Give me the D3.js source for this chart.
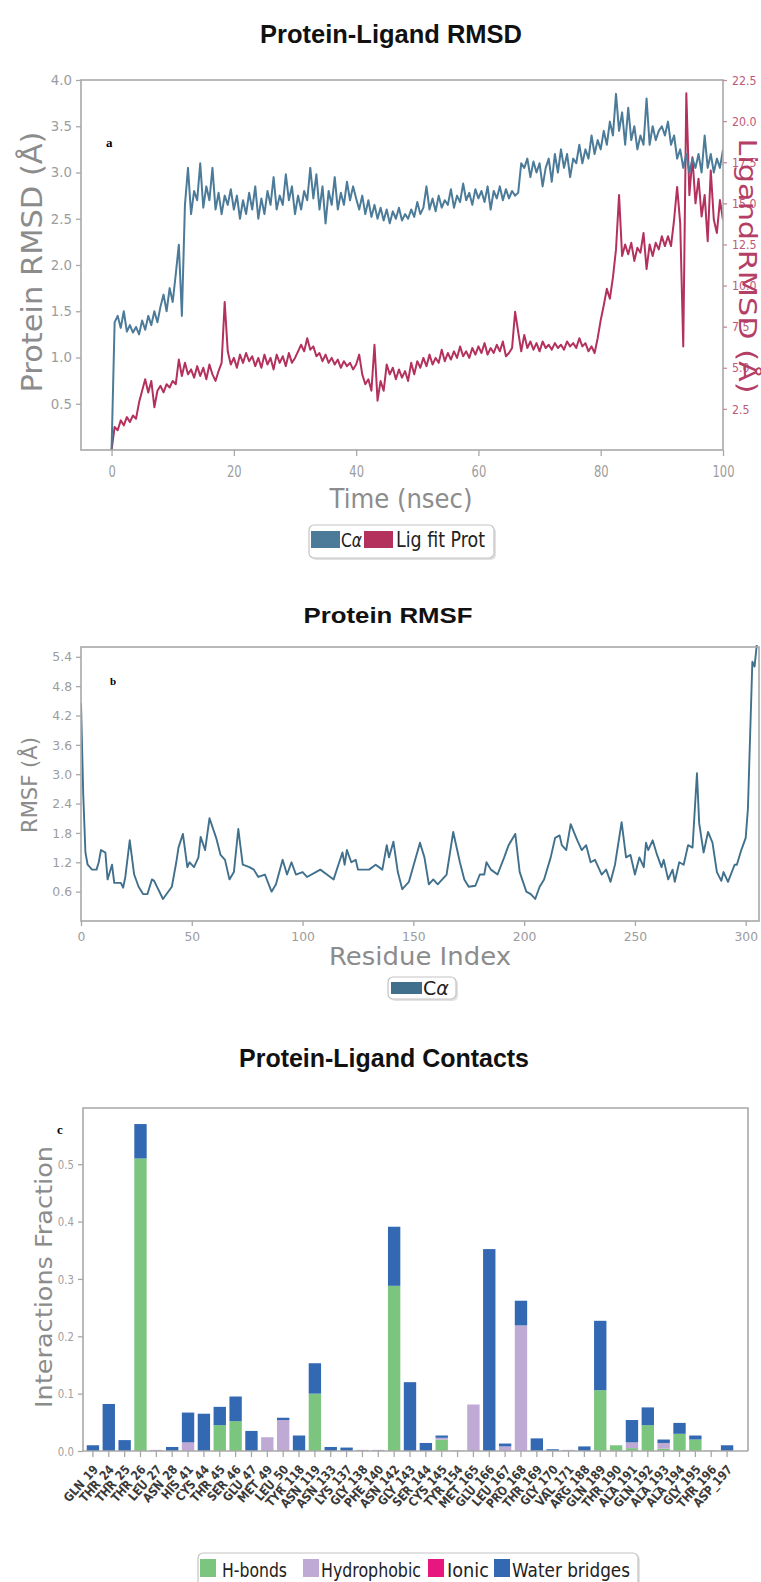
<!DOCTYPE html>
<html><head><meta charset="utf-8">
<script src="https://cdn.jsdelivr.net/npm/d3@7/dist/d3.min.js"></script>
<style>body{margin:0;background:#fff}svg{display:block}</style>
</head><body>
<svg id="fig" width="761" height="1582"></svg>
<script>
// ---------------- DATA ----------------
// Protein-Ligand RMSD, sampled every 0.5 ns from 0 to 100 ns
const rmsdStep = 0.5;
const caRMSD = [
0,1.38,1.45,1.32,1.5,1.28,1.35,1.27,1.33,1.25,
1.4,1.3,1.45,1.35,1.5,1.38,1.55,1.68,1.5,1.75,
1.6,1.9,2.22,1.45,2.65,3.05,2.55,2.8,2.7,3.1,
2.62,2.85,2.7,3.05,2.6,2.78,2.55,2.75,2.65,2.82,
2.6,2.75,2.5,2.7,2.55,2.78,2.6,2.85,2.5,2.72,
2.55,2.8,2.65,2.95,2.6,2.75,2.65,2.98,2.7,2.85,
2.55,2.75,2.6,2.8,2.7,3.05,2.72,2.98,2.6,2.85,
2.45,2.8,2.65,2.95,2.6,2.78,2.65,2.9,2.7,2.85,
2.72,2.6,2.75,2.55,2.7,2.52,2.65,2.5,2.62,2.48,
2.6,2.45,2.58,2.5,2.62,2.48,2.55,2.5,2.6,2.52,
2.68,2.55,2.62,2.85,2.6,2.72,2.58,2.75,2.62,2.7,
2.65,2.82,2.62,2.75,2.68,2.88,2.7,2.78,2.65,2.82,
2.72,2.8,2.68,2.85,2.6,2.8,2.72,2.85,2.7,2.82,
2.72,2.8,2.75,2.78,3.1,3.05,3.15,2.95,3.12,3.0,
3.1,2.85,3.05,3.15,2.9,3.2,3.0,3.25,3.05,3.2,
2.95,3.15,3.1,3.3,3.1,3.25,3.15,3.4,3.2,3.35,
3.25,3.45,3.3,3.55,3.4,3.85,3.45,3.65,3.3,3.7,
3.35,3.5,3.25,3.4,3.3,3.8,3.3,3.5,3.35,3.45,
3.5,3.4,3.55,3.3,3.4,3.15,3.25,3.05,3.2,3.0,
3.15,3.05,3.2,3.0,3.4,3.05,3.2,3.0,3.15,3.05,
3.25];
const ligRMSD = [
0,1.4,1.2,1.8,1.5,2.0,1.7,2.1,1.9,2.9,
3.6,4.3,3.5,4.2,2.6,3.6,3.9,3.5,4.0,3.8,
4.2,4.0,5.5,4.5,5.3,4.6,4.9,4.4,5.1,4.5,
5.0,4.3,5.2,4.6,4.2,4.8,5.3,9.0,6.0,5.2,
5.6,5.0,5.8,5.3,5.9,5.4,5.7,5.1,5.6,5.0,
5.8,5.2,5.6,4.9,5.8,5.3,5.7,5.1,5.9,5.3,
5.6,6.0,6.4,6.0,6.8,6.1,6.3,5.7,5.9,5.4,
5.8,5.3,5.6,5.2,5.5,5.0,5.4,5.1,5.3,4.9,
5.2,5.8,4.6,4.0,4.3,3.6,6.4,3.0,4.2,3.6,
5.2,4.6,5.0,4.3,4.9,4.4,4.8,4.2,5.3,4.6,
5.4,5.0,5.6,5.1,5.8,5.2,5.6,5.3,6.1,5.4,
5.9,5.5,6.0,5.6,6.3,5.7,6.0,5.6,6.2,5.8,
6.3,5.9,6.5,5.8,6.2,5.9,6.4,6.0,6.6,5.7,
5.9,6.2,8.4,7.2,6.0,7.0,6.2,6.6,6.1,6.5,
6.0,6.6,6.2,6.4,6.1,6.5,6.2,6.4,6.1,6.6,
6.3,6.5,6.2,6.8,6.3,6.5,6.0,6.3,5.9,6.8,
7.9,8.8,9.8,9.2,10.5,12.2,15.5,11.8,12.5,11.9,
12.6,11.5,12.3,12.0,13.2,11.0,12.5,11.8,12.6,12.2,
13.0,12.4,13.0,12.4,14.0,16.0,13.8,6.3,21.7,15.5,
17.8,15.0,16.5,14.2,15.5,12.7,17.0,14.0,13.2,15.2,
14.0];
const rmsdXTicks = [0,20,40,60,80,100];
const rmsdYTicks = [0.5,1.0,1.5,2.0,2.5,3.0,3.5,4.0];
const ligYTicks = [2.5,5.0,7.5,10.0,12.5,15.0,17.5,20.0,22.5];
const rmsdLegend = ["Cα","Lig fit Prot"];

// Protein RMSF: [residue index, RMSF (Å)]
const rmsfPoints = [[0,4.45],[1,2.6],[2,1.4],[3,1.15],[5,1.05],[7,1.05],[8,1.2],[9,1.45],[11,1.4],[12,0.85],[14,1.15],[15,0.78],[18,0.78],[19,0.68],[20,0.9],[22,1.65],[24,0.95],[26,0.7],[28,0.55],[30,0.55],[32,0.85],[33,0.82],[37,0.45],[41,0.7],[43,1.2],[44,1.5],[46,1.78],[48,1.1],[49,1.2],[51,1.1],[53,1.3],[54,1.72],[56,1.45],[58,2.1],[61,1.7],[63,1.35],[65,1.25],[67,0.85],[69,1.0],[71,1.88],[73,1.15],[76,1.1],[78,1.05],[80,0.9],[83,0.95],[86,0.6],[88,0.75],[91,1.25],[93,0.95],[95,1.2],[97,0.95],[100,1.0],[102,0.9],[106,1.0],[108,1.05],[111,0.95],[114,0.85],[118,1.4],[119,1.15],[120,1.45],[122,1.2],[124,1.25],[125,1.05],[130,1.05],[133,1.15],[136,1.05],[138,1.55],[139,1.3],[141,1.62],[143,1.0],[145,0.65],[148,0.8],[153,1.6],[155,1.3],[157,0.75],[159,0.85],[161,0.75],[165,0.95],[168,1.82],[171,1.2],[173,0.85],[175,0.7],[178,0.72],[180,0.95],[182,0.95],[183,1.2],[185,1.05],[188,0.95],[191,1.3],[193,1.55],[196,1.78],[198,1.0],[201,0.6],[203,0.55],[205,0.45],[207,0.7],[209,0.85],[212,1.3],[214,1.7],[216,1.75],[217,1.55],[219,1.45],[221,1.98],[224,1.65],[226,1.45],[228,1.55],[230,1.2],[232,1.25],[235,0.95],[237,1.05],[239,0.8],[241,1.15],[244,2.02],[246,1.3],[248,1.35],[250,0.95],[252,1.3],[254,1.1],[255,1.6],[256,1.45],[258,1.65],[260,1.35],[262,1.1],[263,1.25],[265,0.85],[267,1.05],[268,0.8],[270,1.2],[272,1.15],[274,1.55],[276,1.5],[278,3.02],[279,2.0],[281,1.4],[283,1.82],[285,1.6],[287,1.0],[289,0.82],[290,1.0],[292,0.8],[295,1.15],[296,1.15],[298,1.45],[300,1.7],[301,2.3],[303,5.3],[304,5.2],[305,5.65]];
const rmsfXTicks = [0,50,100,150,200,250,300];
const rmsfYTicks = [0.6,1.2,1.8,2.4,3.0,3.6,4.2,4.8,5.4];

// Protein-Ligand Contacts
const residues = ["GLN_19","THR_24","THR_25","THR_26","LEU_27","ASN_28","HIS_41","CYS_44","THR_45","SER_46","GLU_47","MET_49","LEU_50","TYR_118","ASN_119","ASN_133","LYS_137","GLY_138","PHE_140","ASN_142","GLY_143","SER_144","CYS_145","TYR_154","MET_165","GLU_166","LEU_167","PRO_168","THR_169","GLY_170","VAL_171","ARG_188","GLN_189","THR_190","ALA_191","GLN_192","ALA_193","ALA_194","GLY_195","THR_196","ASP_197"];
const hbonds      = [0,0,0,0.51,0,0,0,0,0.045,0.052,0,0,0,0,0.100,0,0,0,0,0.288,0,0,0.020,0,0,0,0,0,0,0,0,0,0.106,0.010,0.005,0.045,0.004,0.030,0.020,0,0];
const hydrophobic = [0,0,0,0,0.002,0,0.015,0,0,0,0,0.024,0.054,0,0,0,0,0.002,0.002,0,0,0,0.003,0.001,0.081,0,0.008,0.219,0,0,0.002,0,0,0,0.010,0,0.010,0,0,0.001,0];
const ionic       = [0,0,0,0,0,0,0,0,0,0,0,0,0,0,0,0,0,0,0,0,0,0,0,0,0,0,0,0,0,0,0,0,0,0,0,0,0,0,0,0,0];
const water       = [0.010,0.082,0.019,0.060,0,0.007,0.052,0.065,0.032,0.043,0.035,0,0.004,0.027,0.053,0.007,0.006,0,0,0.103,0.120,0.014,0.004,0,0,0.352,0.005,0.043,0.022,0.003,0,0.008,0.121,0,0.039,0.031,0.006,0.019,0.007,0,0.010];
const contactYTicks = [0,0.1,0.2,0.3,0.4,0.5];
const contactKeys = ["hbonds","hydrophobic","ionic","water"];
const contactLabels = ["H-bonds","Hydrophobic","Ionic","Water bridges"];

// ---------------- DRAWING ----------------
const F = "DejaVu Sans, sans-serif";
const TF = "Liberation Sans Narrow, Liberation Sans, Arial, sans-serif";
const SERIF = "Liberation Serif, DejaVu Serif, serif";
const svg = d3.select("#fig");
const FRAME = "#a8a8a8";
const blue = "#4b7b98", red = "#b3315c", rmsfBlue = "#41708d";

function condense(sel, f){
  sel.each(function(){
    const w = this.getComputedTextLength();
    this.setAttribute("textLength", w*f);
    this.setAttribute("lengthAdjust","spacingAndGlyphs");
  });
}
function addText(p, o){
  const t = p.append("text")
    .attr("transform", `translate(${o.x},${o.y})` + (o.rot ? ` rotate(${o.rot})` : ""))
    .attr("text-anchor", o.anchor || "middle")
    .attr("font-family", o.family || F)
    .attr("font-size", o.size)
    .attr("font-weight", o.weight || "normal")
    .attr("fill", o.fill || "#000")
    .text(o.text);
  if (o.tl) t.attr("textLength", o.tl).attr("lengthAdjust", "spacingAndGlyphs");
  return t;
}
function styleAxis(g, size, fill, tickColor, cf){
  g.select(".domain").remove();
  g.attr("font-family", F).attr("font-size", size);
  g.selectAll(".tick line").attr("stroke", tickColor).attr("stroke-width", 1.3);
  g.selectAll(".tick text").attr("fill", fill);
  if (cf) condense(g.selectAll(".tick text"), cf);
}
function legendBox(p, x, y, w, h){
  p.append("rect").attr("x", x+2).attr("y", y+2).attr("width", w).attr("height", h).attr("rx", 5).attr("fill", "#e2e2e2");
  p.append("rect").attr("x", x).attr("y", y).attr("width", w).attr("height", h).attr("rx", 5)
    .attr("fill", "#fff").attr("stroke", "#c4c4c4").attr("stroke-width", 1.2);
}

// ===== Chart a: RMSD =====
{
  const L = 81, R = 723, T = 80, B = 450;
  const x = d3.scaleLinear().domain([-5, 100]).range([L, R]);
  const yL = d3.scaleLinear().domain([0, 4]).range([B, T]);
  const yR = d3.scaleLinear().domain([0, 22.5]).range([B, T]);
  const g = svg.append("g");
  addText(g, {x: 391, y: 43, text: "Protein-Ligand RMSD", size: 26, weight: "bold", family: TF, tl: 262, fill: "#111"});

  g.append("clipPath").attr("id", "clipA").append("rect").attr("x", L).attr("y", T).attr("width", R-L).attr("height", B-T);
  const line = (ys) => d3.line().x((d, i) => x(i*rmsdStep)).y(d => ys(d));
  g.append("path").datum(ligRMSD).attr("d", line(yR)).attr("fill", "none").attr("stroke", red).attr("stroke-width", 2).attr("stroke-linejoin", "round").attr("clip-path", "url(#clipA)");
  g.append("path").datum(caRMSD).attr("d", line(yL)).attr("fill", "none").attr("stroke", blue).attr("stroke-width", 2).attr("stroke-linejoin", "round").attr("clip-path", "url(#clipA)");

  g.append("rect").attr("x", L).attr("y", T).attr("width", R-L).attr("height", B-T).attr("fill", "none").attr("stroke", FRAME).attr("stroke-width", 1.6);

  const ax = g.append("g").attr("transform", `translate(0,${B})`)
    .call(d3.axisBottom(x).tickValues(rmsdXTicks).tickFormat(d3.format("d")).tickSize(6).tickPadding(10));
  styleAxis(ax, 16, "#9c9c9c", FRAME, 0.72);
  const ay = g.append("g").attr("transform", `translate(${L},0)`)
    .call(d3.axisLeft(yL).tickValues(rmsdYTicks).tickFormat(d3.format(".1f")).tickSize(5).tickPadding(4));
  styleAxis(ay, 14, "#9c9c9c", FRAME, 0.95);
  const ar = g.append("g").attr("transform", `translate(${R},0)`)
    .call(d3.axisRight(yR).tickValues(ligYTicks).tickFormat(d3.format(".1f")).tickSize(4).tickPadding(5));
  styleAxis(ar, 13, "#c0587b", "#c88aa0", 0.85);

  addText(g, {x: 42, y: 262, rot: -90, text: "Protein RMSD (Å)", size: 28, fill: "#8c8c8c", tl: 261});
  addText(g, {x: 739, y: 266, rot: 90, text: "Ligand RMSD (Å)", size: 25, fill: "#b53e66", tl: 255});
  addText(g, {x: 401, y: 508, text: "Time (nsec)", size: 27, fill: "#8c8c8c", tl: 143});
  addText(g, {x: 106, y: 147, text: "a", size: 13, weight: "bold", family: SERIF, anchor: "start"});

  legendBox(g, 309, 525, 185, 33);
  g.append("rect").attr("x", 311).attr("y", 531).attr("width", 29).attr("height", 17).attr("fill", blue);
  const t1 = g.append("text").attr("x", 341).attr("y", 547).attr("font-family", F).attr("font-size", 19).attr("fill", "#222");
  t1.append("tspan").text(rmsdLegend[0].charAt(0));
  t1.append("tspan").attr("font-style", "italic").text(rmsdLegend[0].charAt(1));
  t1.attr("textLength", 21).attr("lengthAdjust", "spacingAndGlyphs");
  g.append("rect").attr("x", 364).attr("y", 531).attr("width", 29).attr("height", 17).attr("fill", red);
  addText(g, {x: 396, y: 547, text: rmsdLegend[1], size: 22, fill: "#222", anchor: "start", tl: 89});
}

// ===== Chart b: RMSF =====
{
  const L = 81, R = 759, T = 647, B = 921;
  const x = d3.scaleLinear().domain([0, 306]).range([L, R]);
  const y = d3.scaleLinear().domain([0, 5.6]).range([B, T]);
  const g = svg.append("g");
  addText(g, {x: 388, y: 623, text: "Protein RMSF", size: 22, weight: "bold", family: TF, tl: 169, fill: "#111"});
  g.append("clipPath").attr("id", "clipB").append("rect").attr("x", L).attr("y", T-2).attr("width", R-L).attr("height", B-T+2);
  g.append("path").datum(rmsfPoints)
    .attr("d", d3.line().x(d => x(d[0])).y(d => y(d[1])))
    .attr("fill", "none").attr("stroke", rmsfBlue).attr("stroke-width", 1.9).attr("stroke-linejoin", "round").attr("clip-path", "url(#clipB)");
  g.append("rect").attr("x", L).attr("y", T).attr("width", R-L).attr("height", B-T).attr("fill", "none").attr("stroke", FRAME).attr("stroke-width", 1.6);
  const ax = g.append("g").attr("transform", `translate(0,${B})`)
    .call(d3.axisBottom(x).tickValues(rmsfXTicks).tickFormat(d3.format("d")).tickSize(5).tickPadding(6));
  styleAxis(ax, 13, "#9c9c9c", FRAME, 0.95);
  const ay = g.append("g").attr("transform", `translate(${L},0)`)
    .call(d3.axisLeft(y).tickValues(rmsfYTicks).tickFormat(d3.format(".1f")).tickSize(5).tickPadding(4));
  styleAxis(ay, 13, "#9c9c9c", FRAME, 0.95);
  addText(g, {x: 37, y: 785, rot: -90, text: "RMSF (Å)", size: 22, fill: "#8c8c8c", tl: 96});
  addText(g, {x: 420, y: 965, text: "Residue Index", size: 24, fill: "#8c8c8c", tl: 182});
  addText(g, {x: 110, y: 685, text: "b", size: 11, weight: "bold", family: SERIF, anchor: "start"});

  legendBox(g, 388, 977, 68, 22);
  g.append("rect").attr("x", 391).attr("y", 982).attr("width", 31).attr("height", 12).attr("fill", rmsfBlue);
  const t1 = g.append("text").attr("x", 423).attr("y", 995).attr("font-family", F).attr("font-size", 19).attr("fill", "#222");
  t1.append("tspan").text(rmsdLegend[0].charAt(0));
  t1.append("tspan").attr("font-style", "italic").text(rmsdLegend[0].charAt(1));
}

// ===== Chart c: Contacts =====
{
  const L = 83, R = 748, T = 1108, B = 1451;
  const x = d3.scaleBand().domain(residues).range([85, 735]).paddingInner(0.22).paddingOuter(0.11);
  const y = d3.scaleLinear().domain([0, 0.598]).range([B, T]);
  const colors = {hbonds: "#7cc57e", hydrophobic: "#bfa9d5", ionic: "#e8177f", water: "#3368b3"};
  const table = residues.map((r, i) => ({res: r, hbonds: hbonds[i], hydrophobic: hydrophobic[i], ionic: ionic[i], water: water[i]}));
  const series = d3.stack().keys(contactKeys)(table);
  const g = svg.append("g");
  addText(g, {x: 384, y: 1067, text: "Protein-Ligand Contacts", size: 26, weight: "bold", family: TF, tl: 290, fill: "#111"});

  g.selectAll("g.layer").data(series).join("g").attr("class", "layer")
    .attr("fill", d => colors[d.key])
    .selectAll("rect").data(d => d.filter(e => e[1] - e[0] > 0)).join("rect")
    .attr("x", d => x(d.data.res)).attr("width", x.bandwidth())
    .attr("y", d => y(d[1])).attr("height", d => y(d[0]) - y(d[1]));

  g.append("path").attr("d", `M${L},${B}V${T}H${R}V${B}`).attr("fill", "none").attr("stroke", FRAME).attr("stroke-width", 1.6);
  g.append("line").attr("x1", L).attr("x2", R).attr("y1", B).attr("y2", B).attr("stroke", FRAME).attr("stroke-width", 1.6);

  const ay = g.append("g").attr("transform", `translate(${L},0)`)
    .call(d3.axisLeft(y).tickValues(contactYTicks).tickFormat(d3.format(".1f")).tickSize(5).tickPadding(4));
  styleAxis(ay, 13, "#a0a0a0", FRAME, 0.78);
  const ax = g.append("g").attr("transform", `translate(0,${B})`)
    .call(d3.axisBottom(x).tickSize(6).tickFormat(""));
  styleAxis(ax, 10, "#333", FRAME);
  const xl = g.append("g").selectAll("text").data(residues).join("text")
    .attr("transform", d => `translate(${x(d) + x.bandwidth()/2 + 6},${B + 19}) rotate(-48)`)
    .attr("text-anchor", "end").attr("font-family", F).attr("font-weight", "bold")
    .attr("font-size", 12.5).attr("fill", "#3a3a3a").text(d => d);
  condense(xl, 0.85);

  addText(g, {x: 52, y: 1277, rot: -90, text: "Interactions Fraction", size: 23, fill: "#8c8c8c", tl: 262});
  addText(g, {x: 57, y: 1134, text: "c", size: 13, weight: "bold", family: SERIF, anchor: "start"});

  legendBox(g, 198, 1553, 440, 40);
  const lp = [200, 303, 428, 494], lt = [222, 321, 447, 512], tl = [65, 100, 42, 118];
  contactKeys.forEach((k, i) => {
    g.append("rect").attr("x", lp[i]).attr("y", 1559).attr("width", 16).attr("height", 18).attr("fill", colors[k]);
    addText(g, {x: lt[i], y: 1577, text: contactLabels[i], size: 20, fill: "#222", anchor: "start", tl: tl[i]});
  });
}
</script>
</body></html>
